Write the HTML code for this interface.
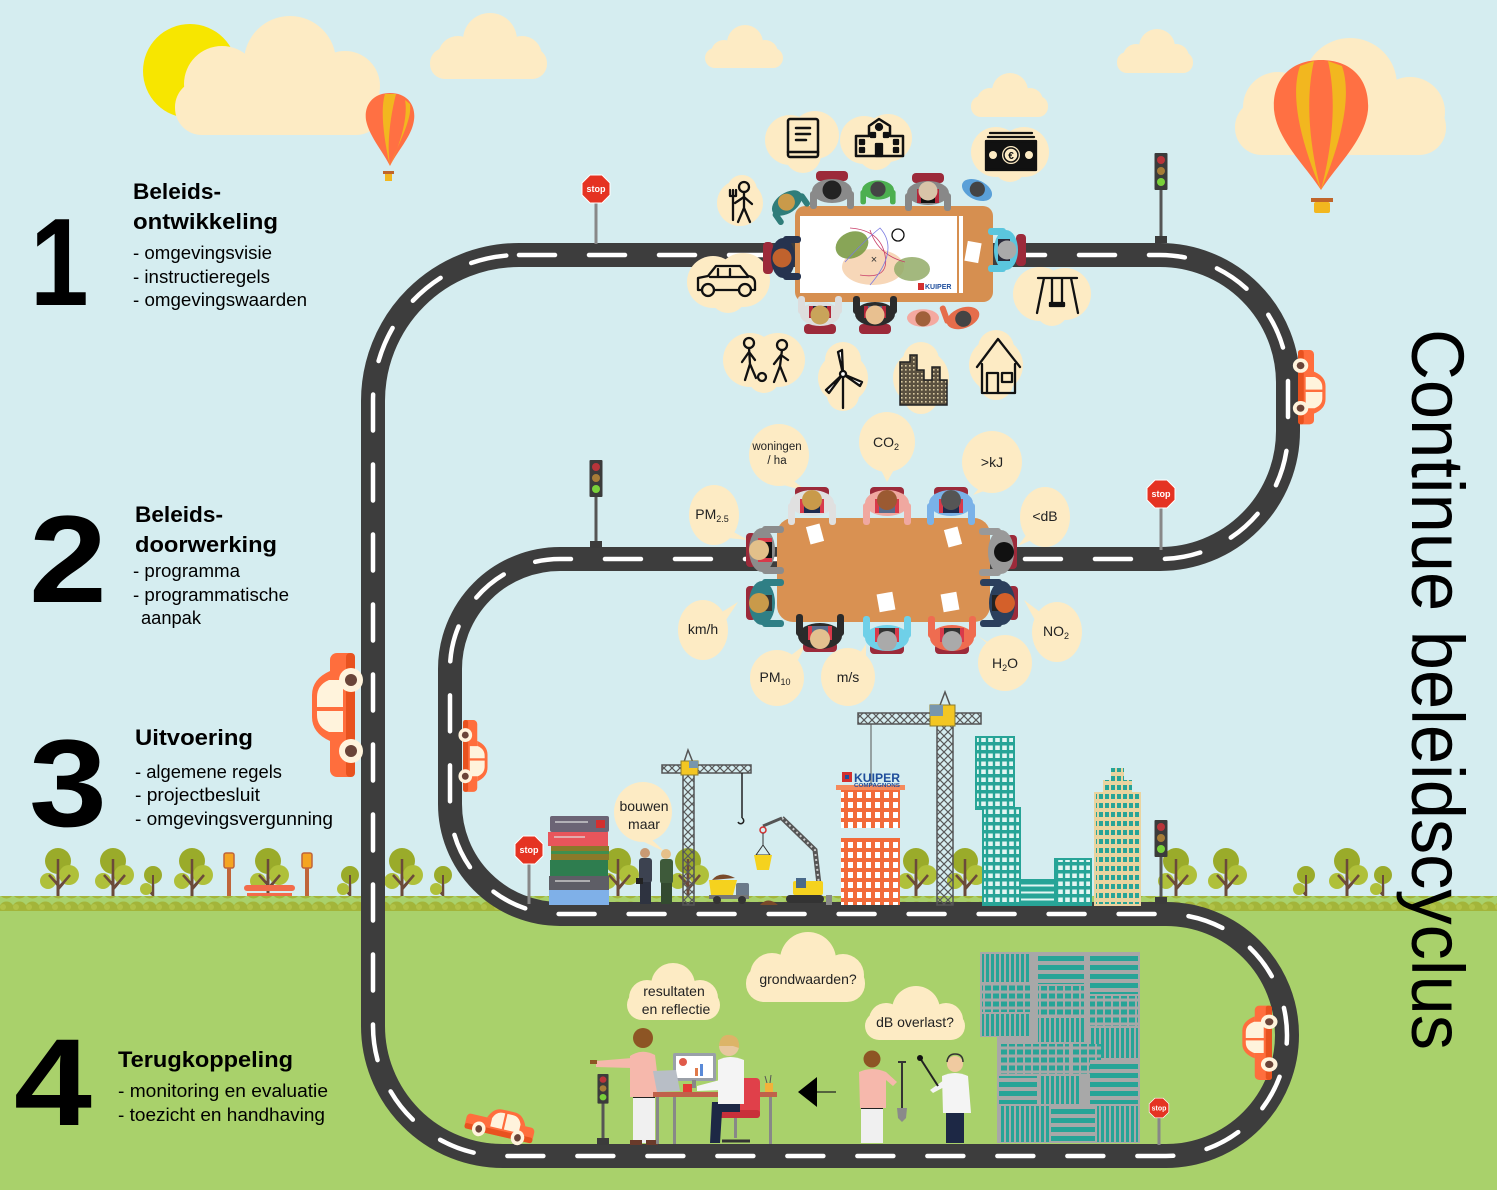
<!DOCTYPE html>
<html><head><meta charset="utf-8">
<style>
html,body{margin:0;padding:0;background:#d5edf0;}
svg{display:block;}
text{font-family:"Liberation Sans",sans-serif;}
</style></head>
<body>
<svg width="1497" height="1190" viewBox="0 0 1497 1190" xmlns="http://www.w3.org/2000/svg">
<defs>
 <pattern id="hedge" width="13" height="18" patternUnits="userSpaceOnUse"><rect width="13" height="18" fill="#a9d16b"/><circle cx="6.5" cy="9" r="7.5" fill="#a3b53a"/><circle cx="3" cy="7" r="3" fill="#b1c247"/></pattern>
 <pattern id="lat" width="8" height="8" patternUnits="userSpaceOnUse"><path d="M0,0L8,8M8,0L0,8" stroke="#5a5a5a" stroke-width="1.2"/></pattern>
 <pattern id="tealwin" width="7" height="8" patternUnits="userSpaceOnUse"><rect width="7" height="8" fill="#27a497"/><rect x="1.2" y="1.5" width="4.6" height="4.5" fill="#e3f6f3"/></pattern>
 <pattern id="tealv" width="5" height="8" patternUnits="userSpaceOnUse"><rect width="5" height="8" fill="#27a497"/><rect x="1.5" y="0" width="2" height="8" fill="#e3f6f3"/></pattern>
 <pattern id="tealh" width="8" height="7" patternUnits="userSpaceOnUse"><rect width="8" height="7" fill="#27a497"/><rect y="2.5" width="8" height="2" fill="#e3f6f3"/></pattern>
 <pattern id="beigewin" width="6" height="9" patternUnits="userSpaceOnUse"><rect width="6" height="9" fill="#ead49f"/><rect x="1" y="2" width="4" height="5" fill="#27a497"/></pattern>
 <pattern id="grayh" width="8" height="9" patternUnits="userSpaceOnUse"><rect width="8" height="9" fill="#a8a8a8"/><rect y="2" width="8" height="5" fill="#27a497"/></pattern>
 <pattern id="grayv" width="5" height="9" patternUnits="userSpaceOnUse"><rect width="5" height="9" fill="#a8a8a8"/><rect x="1" y="0" width="3" height="9" fill="#27a497"/></pattern>
 <pattern id="grayw" width="8" height="8" patternUnits="userSpaceOnUse"><rect width="8" height="8" fill="#a8a8a8"/><rect x="1" y="1.5" width="6" height="5" fill="#27a497"/></pattern>
 <pattern id="cityp" width="4" height="4" patternUnits="userSpaceOnUse"><rect width="4" height="4" fill="#5b5140"/><rect x="1" y="1" width="1.6" height="1.6" fill="#d9c9a0"/></pattern>
 <pattern id="orwin" width="9" height="10" patternUnits="userSpaceOnUse"><rect width="9" height="10" fill="#f26b3a"/><rect x="2" y="2" width="5" height="6" fill="#fff"/></pattern>
 <g id="car">
  <rect x="0" y="-25" width="124" height="25" rx="7" fill="#ff6e3d"/>
  <rect x="0" y="-9" width="124" height="9" rx="4" fill="#e8521f"/>
  <path d="M36,-25 Q44,-43 60,-43 L82,-43 Q98,-43 106,-25 Z" fill="#ff6e3d"/>
  <path d="M45,-12 L45,-26 Q50,-38 62,-38 L80,-38 Q92,-38 97,-26 L97,-12 Z" fill="#fff3dc"/>
  <rect x="66" y="-40" width="4" height="30" fill="#ff6e3d"/>
  <circle cx="26" cy="-4" r="12" fill="#fff3dc"/><circle cx="26" cy="-4" r="6" fill="#6a4438"/>
  <circle cx="97" cy="-4" r="12" fill="#fff3dc"/><circle cx="97" cy="-4" r="6" fill="#6a4438"/>
 </g>
 <g id="tree">
  <path d="M0,0 L0,-46 M0,-20 L-9,-30 M0,-16 L12,-30" stroke="#6b4a3a" stroke-width="3" fill="none"/>
  <circle cx="0" cy="-44" r="13" fill="#9aab2a"/>
  <circle cx="11" cy="-30" r="10" fill="#afc03a"/>
  <circle cx="-10" cy="-24" r="8" fill="#afc03a"/>
  <path d="M0,0 L0,-46 M0,-20 L-9,-30 M0,-16 L12,-30" stroke="#6b4a3a" stroke-width="2.5" fill="none"/>
 </g>
 <g id="stree">
  <path d="M0,0 L0,-30 M0,-10 L-7,-17" stroke="#6b4a3a" stroke-width="2.5" fill="none"/>
  <circle cx="0" cy="-30" r="9" fill="#9aab2a"/>
  <circle cx="-7" cy="-16" r="6" fill="#afc03a"/>
  <path d="M0,0 L0,-30" stroke="#6b4a3a" stroke-width="2" fill="none"/>
 </g>
 <g id="tl">
  <rect x="-6.5" y="0" width="13" height="37" rx="1" fill="#3b3b3b"/>
  <circle cy="7" r="4" fill="#b8343a"/><circle cy="18" r="4" fill="#a67c37"/><circle cy="29" r="4" fill="#79d13a"/>
 </g>
 <g id="stop">
  <polygon points="-6,-14 6,-14 14,-6 14,6 6,14 -6,14 -14,6 -14,-6" fill="#e53322" stroke="#fff" stroke-width="1"/>
 </g>
</defs>

<!-- background -->
<rect width="1497" height="1190" fill="#d5edf0"/>

<!-- sun & clouds -->
<circle cx="190" cy="71" r="47" fill="#f7e600"/>
<g fill="#fdebc4">
 <rect x="175" y="80" width="208" height="55" rx="27"/><circle cx="290" cy="62" r="46"/><circle cx="222" cy="84" r="38"/><circle cx="345" cy="86" r="35"/>
 <rect x="430" y="48" width="117" height="31" rx="15"/><circle cx="490" cy="40" r="27"/><circle cx="458" cy="56" r="20"/><circle cx="522" cy="56" r="20"/>
 <rect x="705" y="48" width="78" height="20" rx="10"/><circle cx="745" cy="43" r="18"/><circle cx="724" cy="53" r="13"/><circle cx="765" cy="53" r="13"/>
 <rect x="1117" y="52" width="76" height="21" rx="10"/><circle cx="1157" cy="47" r="18"/><circle cx="1136" cy="57" r="13"/><circle cx="1176" cy="57" r="13"/>
 <rect x="971" y="96" width="77" height="21" rx="10"/><circle cx="1010" cy="91" r="18"/><circle cx="990" cy="101" r="13"/><circle cx="1030" cy="101" r="13"/>
 <rect x="1235" y="100" width="211" height="55" rx="27"/><circle cx="1350" cy="85" r="47"/><circle cx="1278" cy="107" r="35"/><circle cx="1410" cy="112" r="35"/>
</g>

<!-- balloons -->
<g>
 <path d="M390,93 C372,93 364,106 366,120 C369,136 382,150 390,166 C398,150 412,136 414,120 C416,106 408,93 390,93 Z" fill="#ff7043"/>
 <path d="M385,94 C380,110 384,140 390,166 C386,140 392,110 396,94 Z" fill="#f2b71f"/>
 <path d="M405,100 C408,115 402,140 390,166 C400,140 412,120 410,104 Z" fill="#f2b71f"/>
 <rect x="383" y="171" width="11" height="3" fill="#c0652a"/><rect x="385" y="174" width="7" height="7" fill="#f2b71f"/>
</g>
<g>
 <path d="M1321,60 C1290,60 1272,80 1274,110 C1277,140 1305,165 1321,190 C1337,165 1365,140 1368,110 C1370,80 1352,60 1321,60 Z" fill="#ff7043"/>
 <path d="M1300,66 C1290,95 1300,140 1321,190 C1308,140 1306,95 1314,61 Z" fill="#f2b71f"/>
 <path d="M1342,66 C1352,95 1342,140 1321,190 C1334,140 1336,95 1328,61 Z" fill="#f2b71f"/>
 <rect x="1311" y="198" width="22" height="4" fill="#c0652a"/><rect x="1314" y="202" width="16" height="11" rx="2" fill="#f2b71f"/>
</g>

<!-- trees row -->
<g>
 <use href="#tree" x="58" y="905"/><use href="#tree" x="113" y="905"/><use href="#stree" x="153" y="905"/><use href="#tree" x="192" y="905"/>
 <use href="#tree" x="268" y="905"/><use href="#stree" x="350" y="905"/><use href="#tree" x="402" y="905"/><use href="#stree" x="443" y="905"/>
 <use href="#tree" x="618" y="905"/><use href="#tree" x="688" y="905"/><use href="#tree" x="916" y="905"/><use href="#tree" x="965" y="905"/>
 <use href="#tree" x="1176" y="905"/><use href="#tree" x="1226" y="905"/><use href="#stree" x="1306" y="905"/><use href="#tree" x="1347" y="905"/><use href="#stree" x="1383" y="905"/>
</g>
<!-- lamps & bench -->
<g>
 <rect x="227" y="866" width="4" height="47" fill="#c0653a"/><rect x="224" y="853" width="10" height="15" rx="2" fill="#f4a522" stroke="#c0653a" stroke-width="1.5"/>
 <rect x="305" y="866" width="4" height="47" fill="#c0653a"/><rect x="302" y="853" width="10" height="15" rx="2" fill="#f4a522" stroke="#c0653a" stroke-width="1.5"/>
 <rect x="244" y="885" width="51" height="6" rx="3" fill="#f26b4a"/>
 <rect x="247" y="893" width="45" height="3" fill="#f26b4a"/><rect x="247" y="898" width="45" height="3" fill="#f26b4a"/>
 <rect x="242" y="903" width="55" height="4" fill="#f26b4a"/>
 <rect x="246" y="905" width="3" height="9" fill="#f26b4a"/><rect x="290" y="905" width="3" height="9" fill="#f26b4a"/>
</g>

<!-- hedge & grass -->
<rect x="0" y="896" width="1497" height="18" fill="url(#hedge)"/>
<rect x="0" y="911" width="1497" height="279" fill="#a9d16b"/>

<!-- road -->
<path d="M519,255 H1160 A128,128 0 0 1 1288,383 V431 A128,128 0 0 1 1160,559 H560 A110,110 0 0 0 450,669 V804 A110,110 0 0 0 560,914 H1166 A121,121 0 0 1 1166,1156 H503 A130,130 0 0 1 373,1026 V401 A146,146 0 0 1 519,255 Z" fill="none" stroke="#3d3d3d" stroke-width="24"/>
<path d="M519,255 H1160 A128,128 0 0 1 1288,383 V431 A128,128 0 0 1 1160,559 H560 A110,110 0 0 0 450,669 V804 A110,110 0 0 0 560,914 H1166 A121,121 0 0 1 1166,1156 H503 A130,130 0 0 1 373,1026 V401 A146,146 0 0 1 519,255 Z" fill="none" stroke="#fff" stroke-width="4.5" stroke-dasharray="36 34" stroke-linecap="round"/>

<!-- stop signs & traffic lights -->
<g>
 <rect x="594.5" y="200" width="3" height="44" fill="#888"/><use href="#stop" x="596" y="189"/><text x="596" y="192" font-size="9" font-weight="bold" fill="#fff" text-anchor="middle">stop</text>
 <rect x="1159.5" y="505" width="3" height="45" fill="#888"/><use href="#stop" x="1161" y="494"/><text x="1161" y="497" font-size="9" font-weight="bold" fill="#fff" text-anchor="middle">stop</text>
 <rect x="527.5" y="860" width="3" height="44" fill="#888"/><use href="#stop" x="529" y="850"/><text x="529" y="853" font-size="9" font-weight="bold" fill="#fff" text-anchor="middle">stop</text>
 <rect x="1157.5" y="1115" width="3" height="30" fill="#888"/><g transform="translate(1159,1108) scale(0.7)"><use href="#stop"/></g><text x="1159" y="1110.5" font-size="7" font-weight="bold" fill="#fff" text-anchor="middle">stop</text>
 <rect x="1159.5" y="190" width="3" height="52" fill="#555"/><rect x="1155" y="236" width="12" height="7" fill="#3b3b3b"/><use href="#tl" x="1161" y="153"/>
 <rect x="594.5" y="496" width="3" height="52" fill="#555"/><rect x="590" y="541" width="12" height="7" fill="#3b3b3b"/><use href="#tl" x="596" y="460"/>
 <rect x="1159.5" y="856" width="3" height="48" fill="#555"/><rect x="1155" y="897" width="12" height="7" fill="#3b3b3b"/><use href="#tl" x="1161" y="820"/>
 <rect x="601.5" y="1102" width="3" height="42" fill="#555"/><rect x="597" y="1138" width="12" height="7" fill="#3b3b3b"/><g transform="translate(603,1074) scale(0.85,0.8)"><use href="#tl"/></g>
</g>

<!-- cars -->
<use href="#car" transform="matrix(0,-1,1,0,355,777)"/>
<use href="#car" transform="matrix(0,0.58,-0.57,0,463,720)"/>
<use href="#car" transform="matrix(0,0.6,-0.64,0,1298,350)"/>
<use href="#car" transform="matrix(0,-0.6,0.69,0,1272,1080)"/>
<use href="#car" transform="translate(464,1128) rotate(13) scale(0.56,0.62)"/>

<!-- ===== TOP MEETING ===== -->
<g fill="#fdebc4">
 <circle cx="790" cy="140" r="25"/><circle cx="815" cy="135" r="24"/><circle cx="803" cy="155" r="18"/>
 <circle cx="864" cy="140" r="24"/><circle cx="888" cy="138" r="24"/><circle cx="876" cy="152" r="18"/>
 <circle cx="996" cy="152" r="25"/><circle cx="1024" cy="152" r="25"/><circle cx="1010" cy="166" r="16"/>
 <circle cx="740" cy="203" r="23"/><circle cx="742" cy="190" r="15"/>
 <circle cx="713" cy="282" r="26"/><circle cx="743" cy="280" r="27"/><circle cx="728" cy="295" r="18"/>
 <circle cx="1040" cy="294" r="27"/><circle cx="1065" cy="294" r="26"/><circle cx="1052" cy="310" r="16"/>
 <circle cx="750" cy="360" r="27"/><circle cx="778" cy="360" r="27"/><circle cx="764" cy="377" r="16"/>
 <circle cx="843" cy="378" r="25"/><circle cx="843" cy="360" r="18"/><circle cx="843" cy="395" r="16"/>
 <circle cx="921" cy="378" r="28"/><circle cx="921" cy="360" r="18"/><circle cx="921" cy="397" r="17"/>
 <circle cx="996" cy="365" r="27"/><circle cx="996" cy="348" r="18"/><circle cx="996" cy="383" r="17"/>
</g>
<g stroke="#111" stroke-width="2.5" fill="none" stroke-linecap="round" stroke-linejoin="round">
 <rect x="788" y="119" width="30" height="38" rx="2"/><line x1="788" y1="152" x2="818" y2="152"/><path d="M796,128 H810 M796,134 H810 M796,140 H806"/>
 <path d="M856,156 V136 H869 V126 L879,119 L890,126 V136 H903 V156 Z"/>
</g>
<g stroke="#111" stroke-width="2.3" fill="none" stroke-linecap="round" stroke-linejoin="round">
 <circle cx="879" cy="127" r="3" fill="#111"/><rect x="876" y="144" width="6" height="12" fill="#111"/>
 <rect x="860" y="140" width="4" height="4" fill="#111"/><rect x="860" y="148" width="4" height="4" fill="#111"/>
 <rect x="894" y="140" width="4" height="4" fill="#111"/><rect x="894" y="148" width="4" height="4" fill="#111"/>
 <rect x="871" y="133" width="4" height="4" fill="#111"/><rect x="884" y="133" width="4" height="4" fill="#111"/>
 <path d="M990,133 H1032 M988,137 H1034"/>
 <rect x="986" y="141" width="50" height="29" fill="#111"/>
 <circle cx="744" cy="187" r="5"/><path d="M744,192 V208 L738,222 M744,208 L750,222 M744,197 L735,203 M744,197 L752,204"/>
 <path d="M733,190 V220 M730,190 V196 H736 V190"/>
 <path d="M698,290 V278 L708,276 L716,266 H740 L748,276 Q755,277 755,283 V290 Z"/><path d="M718,269 V277 M730,269 V277 M710,277 H748"/>
 <path d="M1038,278 H1077 M1044,278 L1037,313 M1071,278 L1078,313 M1052,278 V304 M1062,278 V304"/><rect x="1050" y="303" width="14" height="3" fill="#111"/>
 <circle cx="749" cy="343" r="5"/><path d="M749,348 L750,364 L745,380 M750,364 L756,378 M749,352 L742,362 M749,352 L755,360"/>
 <circle cx="762" cy="377" r="4"/>
 <circle cx="782" cy="345" r="5"/><path d="M782,350 L780,366 L774,382 M780,366 L786,381 M781,355 L774,364 M781,355 L788,360"/>
 <path d="M843,374 V408"/><path d="M843,374 L838,352 L842,350 Z M843,374 L862,382 L860,386 Z M843,374 L829,393 L826,390 Z" fill="#fff"/><circle cx="843" cy="374" r="3" fill="#fff"/>
 <path d="M977,367 L998,339 L1020,367 M982,364 V393 H1015 V364"/><path d="M987,393 V373 H998 V393"/><rect x="1002" y="373" width="10" height="9"/>
</g>
<path d="M900,405 V362 H910 V355 H917 V370 H924 V380 H932 V367 H940 V380 H947 V405 Z" fill="url(#cityp)" stroke="#222" stroke-width="1.5"/>
<g fill="#fdebc4"><circle cx="1011" cy="155" r="9"/><circle cx="993" cy="155" r="4"/><circle cx="1029" cy="155" r="4"/></g>
<circle cx="1011" cy="155" r="7" fill="none" stroke="#111" stroke-width="1.5"/>
<text x="1011" y="159" font-size="10" text-anchor="middle" fill="#111" font-weight="bold">€</text>
<g fill="none" stroke="#111" stroke-width="2.3"><circle cx="708" cy="290" r="6" fill="#fdebc4"/><circle cx="745" cy="290" r="6" fill="#fdebc4"/></g>

<!-- top table -->
<rect x="795" y="206" width="198" height="96" rx="10" fill="#d68f50"/>
<rect x="800" y="216" width="157" height="77" fill="#fff"/>
<rect x="959" y="216" width="4" height="77" fill="#fff"/>
<ellipse cx="873" cy="267" rx="31" ry="18" fill="#f7d7b8"/>
<ellipse cx="852" cy="245" rx="17" ry="13" transform="rotate(-25 852 245)" fill="#7b9b45" opacity="0.9"/>
<ellipse cx="912" cy="269" rx="18" ry="12" fill="#93ac67" opacity="0.85"/>
<circle cx="898" cy="235" r="6" fill="#fff" stroke="#111" stroke-width="1.3"/>
<path d="M850,228 Q880,230 885,255 Q890,280 860,275 M870,230 Q878,255 905,262" fill="none" stroke="#c9406a" stroke-width="0.8"/>
<path d="M845,262 Q865,240 880,228 Q900,250 870,285" fill="none" stroke="#7a7ae0" stroke-width="0.8"/>
<text x="874" y="263" font-size="11" text-anchor="middle" fill="#333">×</text>
<rect x="918" y="283" width="6" height="7" fill="#d32f2f"/><text x="925" y="289" font-size="7" font-weight="bold" fill="#1f4e9c">KUIPER</text>

<!-- top people -->
<g>
 <g transform="translate(787,203) rotate(-35)"><ellipse rx="17" ry="10" fill="#2f7d7a"/><rect x="-19" y="0" width="6" height="15" rx="3" fill="#2f7d7a"/><rect x="13" y="0" width="6" height="15" rx="3" fill="#2f7d7a"/><circle cy="-1" r="8.5" fill="#c99a4a"/></g>
 <g transform="translate(832,191)"><rect x="-16" y="-20" width="32" height="10" rx="4" fill="#9c2a3a"/><ellipse rx="20" ry="12" fill="#8a8a8a"/><rect x="-22" y="0" width="7" height="18" rx="3" fill="#8a8a8a"/><rect x="15" y="0" width="7" height="18" rx="3" fill="#8a8a8a"/><circle cy="-1" r="9.5" fill="#222"/></g>
 <g transform="translate(878,190) scale(0.8)"><ellipse rx="20" ry="12" fill="#4caf50"/><rect x="-22" y="0" width="7" height="18" rx="3" fill="#4caf50"/><rect x="15" y="0" width="7" height="18" rx="3" fill="#4caf50"/><circle cy="-1" r="9.5" fill="#444"/></g>
 <g transform="translate(928,193)"><rect x="-16" y="-20" width="32" height="10" rx="4" fill="#9c2a3a"/><ellipse rx="21" ry="12" fill="#888"/><rect x="-11" y="-4" width="22" height="14" fill="#b3273a"/><rect x="-7" y="0" width="14" height="10" fill="#111"/><rect x="-23" y="0" width="7" height="18" rx="3" fill="#888"/><rect x="16" y="0" width="7" height="18" rx="3" fill="#888"/><circle cy="-2" r="9.5" fill="#d8c4a8"/></g>
 <g transform="translate(977,190) rotate(25) scale(0.8)"><ellipse rx="20" ry="12" fill="#5aa0d8"/><circle cy="-1" r="9.5" fill="#444"/></g>
 <g transform="translate(783,258) rotate(-90)"><rect x="-16" y="-20" width="32" height="10" rx="4" fill="#9c2a3a"/><ellipse rx="20" ry="12" fill="#26334f"/><rect x="-22" y="0" width="7" height="18" rx="3" fill="#26334f"/><rect x="15" y="0" width="7" height="18" rx="3" fill="#26334f"/><circle cy="-1" r="9.5" fill="#c0622d"/></g>
 <g transform="translate(1006,250) rotate(90)"><rect x="-16" y="-20" width="32" height="10" rx="4" fill="#9c2a3a"/><ellipse rx="20" ry="12" fill="#5bc6de"/><rect x="-11" y="-4" width="22" height="12" fill="#2b2b3b"/><rect x="-22" y="0" width="7" height="18" rx="3" fill="#5bc6de"/><rect x="15" y="0" width="7" height="18" rx="3" fill="#5bc6de"/><circle cy="-1" r="9.5" fill="#aaa"/></g>
 <rect x="966" y="242" width="14" height="20" fill="#fff" transform="rotate(10 973 252)"/>
 <g transform="translate(820,314) rotate(180)"><rect x="-16" y="-20" width="32" height="10" rx="4" fill="#9c2a3a"/><ellipse rx="20" ry="12" fill="#ddd"/><rect x="-11" y="-4" width="22" height="12" fill="#b3273a"/><rect x="-7" y="-1" width="14" height="9" fill="#1a2240"/><rect x="-22" y="0" width="7" height="18" rx="3" fill="#ddd"/><rect x="15" y="0" width="7" height="18" rx="3" fill="#ddd"/><circle cy="-1" r="9.5" fill="#c9a45a"/></g>
 <g transform="translate(875,314) rotate(180)"><rect x="-16" y="-20" width="32" height="10" rx="4" fill="#9c2a3a"/><ellipse rx="20" ry="12" fill="#2b2b2b"/><rect x="-11" y="-4" width="22" height="12" fill="#b3273a"/><rect x="-7" y="-1" width="14" height="9" fill="#5a6b8a"/><rect x="-22" y="0" width="7" height="18" rx="3" fill="#2b2b2b"/><rect x="15" y="0" width="7" height="18" rx="3" fill="#2b2b2b"/><circle cy="-1" r="9.5" fill="#e8c090"/></g>
 <g transform="translate(923,318) rotate(180) scale(0.8)"><ellipse rx="20" ry="11" fill="#f4a9a0"/><circle cy="-1" r="9.5" fill="#a0603a"/></g>
 <g transform="translate(963,318) rotate(160) scale(0.85)"><ellipse rx="20" ry="12" fill="#e56d4b"/><rect x="15" y="0" width="7" height="22" rx="3" fill="#e56d4b"/><circle cy="-1" r="9.5" fill="#444"/></g>
</g>

<!-- ===== MIDDLE MEETING ===== -->
<g fill="#fdebc4">
 <ellipse cx="779" cy="455" rx="30" ry="31"/><path d="M790,478 L808,492 L780,484 Z"/>
 <ellipse cx="887" cy="442" rx="28" ry="30"/><path d="M880,468 L887,482 L895,468 Z"/>
 <ellipse cx="992" cy="462" rx="30" ry="31"/><path d="M982,485 L973,495 L995,487 Z"/>
 <ellipse cx="714" cy="515" rx="25" ry="30"/><path d="M730,530 L748,540 L728,538 Z"/>
 <ellipse cx="1045" cy="517" rx="25" ry="30"/><path d="M1030,530 L1018,546 L1036,538 Z"/>
 <ellipse cx="703" cy="630" rx="25" ry="30"/><path d="M722,612 L738,602 L726,620 Z"/>
 <ellipse cx="1057" cy="632" rx="25" ry="30"/><path d="M1040,612 L1024,600 L1036,622 Z"/>
 <ellipse cx="1005" cy="663" rx="27" ry="28"/><path d="M988,644 L978,636 L994,646 Z"/>
 <ellipse cx="777" cy="678" rx="27" ry="28"/><path d="M790,656 L806,644 L798,660 Z"/>
 <ellipse cx="848" cy="677" rx="27" ry="29"/><path d="M858,656 L866,644 L866,660 Z"/>
</g>
<g font-size="14" fill="#222" text-anchor="middle">
 <text x="777" y="450" font-size="11.5">woningen</text><text x="777" y="464" font-size="11.5">/ ha</text>
 <text x="886" y="447">CO<tspan font-size="9" dy="3">2</tspan></text>
 <text x="992" y="467">&gt;kJ</text>
 <text x="712" y="519">PM<tspan font-size="9" dy="3">2.5</tspan></text>
 <text x="1045" y="521">&lt;dB</text>
 <text x="703" y="634">km/h</text>
 <text x="1056" y="636">NO<tspan font-size="9" dy="3">2</tspan></text>
 <text x="1005" y="668">H<tspan font-size="9" dy="3">2</tspan><tspan dy="-3">O</tspan></text>
 <text x="775" y="682">PM<tspan font-size="9" dy="3">10</tspan></text>
 <text x="848" y="682">m/s</text>
</g>
<rect x="777" y="518" width="213" height="104" rx="16" fill="#d99152"/>
<g>
 <g transform="translate(812,503)"><rect x="-17" y="-16" width="34" height="10" rx="4" fill="#9c2a3a"/><ellipse rx="22" ry="13" fill="#e0e0e0"/><rect x="-12" y="-4" width="24" height="14" fill="#d8394a"/><rect x="-8" y="-2" width="16" height="12" fill="#1d2b4f"/><rect x="-24" y="0" width="7" height="22" rx="3" fill="#e0e0e0"/><rect x="17" y="0" width="7" height="22" rx="3" fill="#e0e0e0"/><circle cy="-3" r="10" fill="#c99a4a"/></g>
 <g transform="translate(887,503)"><rect x="-17" y="-16" width="34" height="10" rx="4" fill="#9c2a3a"/><ellipse rx="22" ry="13" fill="#f0a8a0"/><rect x="-12" y="-4" width="24" height="14" fill="#d8394a"/><rect x="-8" y="-2" width="16" height="12" fill="#5a6b8a"/><rect x="-24" y="0" width="7" height="22" rx="3" fill="#f0a8a0"/><rect x="17" y="0" width="7" height="22" rx="3" fill="#f0a8a0"/><circle cy="-3" r="10" fill="#9b5a32"/></g>
 <g transform="translate(951,503)"><rect x="-17" y="-16" width="34" height="10" rx="4" fill="#9c2a3a"/><ellipse rx="22" ry="13" fill="#7ab2e8"/><rect x="-12" y="-4" width="24" height="14" fill="#d8394a"/><rect x="-8" y="-2" width="16" height="12" fill="#1d2b4f"/><rect x="-24" y="0" width="7" height="22" rx="3" fill="#7ab2e8"/><rect x="17" y="0" width="7" height="22" rx="3" fill="#7ab2e8"/><circle cy="-3" r="10" fill="#555"/></g>
 <g transform="translate(762,550) rotate(-90)"><rect x="-17" y="-16" width="34" height="10" rx="4" fill="#9c2a3a"/><ellipse rx="22" ry="13" fill="#8c8c8c"/><rect x="-12" y="-4" width="24" height="14" fill="#d8394a"/><rect x="-8" y="-2" width="16" height="12" fill="#111"/><rect x="-24" y="0" width="7" height="22" rx="3" fill="#8c8c8c"/><rect x="17" y="0" width="7" height="22" rx="3" fill="#8c8c8c"/><circle cy="-3" r="10" fill="#e2c08a"/></g>
 <g transform="translate(762,603) rotate(-90)"><rect x="-17" y="-16" width="34" height="10" rx="4" fill="#9c2a3a"/><ellipse rx="22" ry="13" fill="#2f7f85"/><rect x="-8" y="-2" width="16" height="12" fill="#333"/><rect x="-24" y="0" width="7" height="22" rx="3" fill="#2f7f85"/><rect x="17" y="0" width="7" height="22" rx="3" fill="#2f7f85"/><circle cy="-3" r="10" fill="#c99a4a"/></g>
 <g transform="translate(1001,552) rotate(90)"><rect x="-17" y="-16" width="34" height="10" rx="4" fill="#9c2a3a"/><ellipse rx="22" ry="13" fill="#999"/><rect x="-24" y="0" width="7" height="22" rx="3" fill="#999"/><rect x="17" y="0" width="7" height="22" rx="3" fill="#999"/><circle cy="-3" r="10" fill="#111"/></g>
 <g transform="translate(1002,603) rotate(90)"><rect x="-17" y="-16" width="34" height="10" rx="4" fill="#9c2a3a"/><ellipse rx="22" ry="13" fill="#2b3f5c"/><rect x="-8" y="-2" width="16" height="12" fill="#222"/><rect x="-24" y="0" width="7" height="22" rx="3" fill="#2b3f5c"/><rect x="17" y="0" width="7" height="22" rx="3" fill="#2b3f5c"/><circle cy="-3" r="10" fill="#d4602a"/></g>
 <g transform="translate(820,636) rotate(180)"><rect x="-17" y="-16" width="34" height="10" rx="4" fill="#9c2a3a"/><ellipse rx="22" ry="13" fill="#2b2b2b"/><rect x="-12" y="-4" width="24" height="14" fill="#d8394a"/><rect x="-8" y="-2" width="16" height="12" fill="#5a6b8a"/><rect x="-24" y="0" width="7" height="22" rx="3" fill="#2b2b2b"/><rect x="17" y="0" width="7" height="22" rx="3" fill="#2b2b2b"/><circle cy="-3" r="10" fill="#e3c08f"/></g>
 <g transform="translate(887,638) rotate(180)"><rect x="-17" y="-16" width="34" height="10" rx="4" fill="#9c2a3a"/><ellipse rx="22" ry="13" fill="#6fd0e8"/><rect x="-12" y="-4" width="24" height="14" fill="#d8394a"/><rect x="-8" y="-2" width="16" height="12" fill="#333"/><rect x="-24" y="0" width="7" height="22" rx="3" fill="#6fd0e8"/><rect x="17" y="0" width="7" height="22" rx="3" fill="#6fd0e8"/><circle cy="-3" r="10" fill="#aaa"/></g>
 <g transform="translate(952,638) rotate(180)"><rect x="-17" y="-16" width="34" height="10" rx="4" fill="#9c2a3a"/><ellipse rx="22" ry="13" fill="#ef6c50"/><rect x="-12" y="-4" width="24" height="14" fill="#d8394a"/><rect x="-8" y="-2" width="16" height="12" fill="#333"/><rect x="-24" y="0" width="7" height="22" rx="3" fill="#ef6c50"/><rect x="17" y="0" width="7" height="22" rx="3" fill="#ef6c50"/><circle cy="-3" r="10" fill="#aaa"/></g>
 <rect x="808" y="525" width="14" height="18" fill="#fff" transform="rotate(-15 815 534)"/>
 <rect x="946" y="528" width="14" height="18" fill="#fff" transform="rotate(-15 953 537)"/>
 <rect x="878" y="593" width="16" height="18" fill="#fff" transform="rotate(-10 886 602)"/>
 <rect x="942" y="593" width="16" height="18" fill="#fff" transform="rotate(-10 950 602)"/>
</g>

<!-- ===== CONSTRUCTION ===== -->
<path d="M937,713 L945,692 L953,713" fill="none" stroke="#555" stroke-width="1.5"/>
<rect x="858" y="713" width="123" height="11" fill="url(#lat)" stroke="#555" stroke-width="1.5"/>
<rect x="937" y="713" width="16" height="192" fill="url(#lat)" stroke="#555" stroke-width="1.5"/>
<rect x="930" y="705" width="25" height="21" fill="#f3c623" stroke="#8a7a30" stroke-width="1"/><rect x="930" y="705" width="13" height="11" fill="#7896ad"/>
<line x1="871" y1="724" x2="871" y2="787" stroke="#555" stroke-width="1"/>
<path d="M683,765 L688,750 L694,765" fill="none" stroke="#555" stroke-width="1.5"/>
<rect x="662" y="765" width="89" height="8" fill="url(#lat)" stroke="#555" stroke-width="1.5"/>
<rect x="683" y="773" width="11" height="132" fill="url(#lat)" stroke="#555" stroke-width="1.5"/>
<rect x="681" y="761" width="17" height="14" fill="#f3c623" stroke="#8a7a30" stroke-width="1"/><rect x="689" y="761" width="9" height="7" fill="#7896ad"/>
<path d="M742,773 V818 M742,818 A3,3 0 1 1 738,822" fill="none" stroke="#222" stroke-width="1.5"/>
<rect x="836" y="785" width="69" height="5" fill="#f58a5c"/>
<rect x="841" y="790" width="59" height="38" fill="url(#orwin)"/>
<rect x="841" y="838" width="59" height="67" fill="url(#orwin)"/>
<rect x="842" y="772" width="10" height="10" fill="#d32f2f"/><rect x="845" y="775" width="4" height="4" fill="#1f4e9c"/>
<text x="854" y="782" font-size="12" font-weight="bold" fill="#1f4e9c" textLength="46" lengthAdjust="spacingAndGlyphs">KUIPER</text>
<text x="854" y="787" font-size="5" font-weight="bold" fill="#1f4e9c" textLength="46" lengthAdjust="spacingAndGlyphs">COMPAGNONS</text>
<rect x="976" y="737" width="38" height="72" fill="url(#tealwin)" stroke="#27a497" stroke-width="2"/>
<rect x="983" y="808" width="37" height="97" fill="url(#tealwin)" stroke="#27a497" stroke-width="2"/>
<rect x="1020" y="880" width="35" height="25" fill="url(#tealh)" stroke="#27a497" stroke-width="2"/>
<rect x="1055" y="859" width="36" height="46" fill="url(#tealwin)" stroke="#27a497" stroke-width="2"/>
<rect x="1111" y="768" width="13" height="13" fill="url(#beigewin)"/>
<rect x="1103" y="780" width="29" height="13" fill="url(#beigewin)"/>
<rect x="1095" y="793" width="45" height="112" fill="url(#beigewin)" stroke="#ead49f" stroke-width="2"/>
<rect x="549" y="890" width="60" height="15" fill="#7fb0e8"/>
<rect x="549" y="876" width="60" height="14" fill="#5e5e66"/>
<rect x="550" y="860" width="58" height="16" fill="#2e7d4f"/>
<rect x="551" y="846" width="58" height="14" fill="#8a7a2a"/><rect x="551" y="851" width="58" height="3" fill="#3f8f4f"/>
<rect x="548" y="832" width="60" height="14" fill="#e8555b"/>
<rect x="550" y="816" width="59" height="16" rx="2" fill="#6b6475"/><rect x="596" y="820" width="9" height="8" fill="#d32f2f"/>
<path d="M555,822 H588 M554,837 H585 M555,881 H590" stroke="#ddd" stroke-width="1.2"/>
<ellipse cx="643" cy="812" rx="29" ry="30" fill="#fdebc4"/><path d="M650,838 L665,852 L640,840 Z" fill="#fdebc4"/>
<text x="644" y="811" font-size="14" text-anchor="middle" fill="#222">bouwen</text>
<text x="644" y="829" font-size="14" text-anchor="middle" fill="#222">maar</text>
<g>
 <circle cx="645" cy="853" r="5" fill="#c99a74"/><rect x="639" y="858" width="13" height="25" rx="3" fill="#3c4250"/><rect x="640" y="882" width="11" height="22" fill="#2e3340"/><rect x="636" y="878" width="7" height="6" fill="#222"/>
 <circle cx="666" cy="854" r="5" fill="#e6c08a"/><rect x="660" y="859" width="13" height="25" rx="3" fill="#3e5a3a"/><rect x="661" y="883" width="11" height="21" fill="#334a30"/>
</g>
<g>
 <path d="M712,880 Q720,870 735,878 Z" fill="#7a4a2a"/>
 <path d="M709,880 L737,880 L733,895 L711,895 Z" fill="#f5d21e"/>
 <rect x="736" y="883" width="13" height="14" rx="2" fill="#6b7a8a"/>
 <rect x="709" y="895" width="40" height="4" fill="#777"/>
 <circle cx="717" cy="900" r="4" fill="#333"/><circle cx="742" cy="900" r="4" fill="#333"/>
 <path d="M760,905 Q768,896 778,905 Z" fill="#7a4a2a"/>
 <path d="M782,818 L815,850 L820,893" fill="none" stroke="#555" stroke-width="5"/>
 <path d="M782,818 L815,850 L820,893" fill="none" stroke="#ccc" stroke-width="2" stroke-dasharray="2 3"/>
 <line x1="763" y1="826" x2="782" y2="818" stroke="#555" stroke-width="3"/>
 <circle cx="763" cy="830" r="3" fill="none" stroke="#d32f2f" stroke-width="1.5"/>
 <path d="M763,833 V845 L756,855 H770 L763,845" fill="none" stroke="#333" stroke-width="1"/>
 <path d="M754,855 H772 L769,870 H757 Z" fill="#f5d21e"/>
 <rect x="793" y="881" width="30" height="14" rx="2" fill="#f5d21e"/><rect x="796" y="878" width="10" height="10" fill="#4a6a8a"/>
 <rect x="786" y="895" width="38" height="8" rx="4" fill="#333"/>
 <rect x="826" y="895" width="6" height="10" fill="#888"/>
</g>

<!-- ===== BOTTOM SCENE ===== -->
<g fill="#fdebc4">
 <rect x="627" y="990" width="93" height="30" rx="15"/><circle cx="673" cy="985" r="22"/><circle cx="647" cy="998" r="18"/><circle cx="700" cy="998" r="18"/>
 <rect x="746" y="965" width="119" height="37" rx="18"/><circle cx="808" cy="960" r="28"/><circle cx="772" cy="975" r="22"/><circle cx="843" cy="975" r="21"/>
 <rect x="865" y="1012" width="100" height="28" rx="14"/><circle cx="916" cy="1010" r="24"/><circle cx="886" cy="1020" r="17"/><circle cx="946" cy="1020" r="17"/>
</g>
<text x="674" y="996" font-size="14" text-anchor="middle" fill="#222">resultaten</text>
<text x="676" y="1014" font-size="14" text-anchor="middle" fill="#222">en reflectie</text>
<text x="808" y="984" font-size="14" text-anchor="middle" fill="#222">grondwaarden?</text>
<text x="915" y="1027" font-size="14" text-anchor="middle" fill="#222">dB overlast?</text>

<path d="M980,952 H1140 V1143 H997 V1037 H980 Z" fill="#a8a8a8"/>
<rect x="982" y="954" width="48" height="28" fill="url(#grayv)"/>
<rect x="982" y="984" width="48" height="28" fill="url(#grayw)"/>
<rect x="982" y="1014" width="48" height="22" fill="url(#grayv)"/>
<rect x="1038" y="954" width="46" height="30" fill="url(#grayh)"/>
<rect x="1038" y="986" width="46" height="30" fill="url(#grayw)"/>
<rect x="1038" y="1018" width="46" height="24" fill="url(#grayv)"/>
<rect x="1090" y="954" width="48" height="40" fill="url(#grayh)"/>
<rect x="1090" y="996" width="48" height="30" fill="url(#grayw)"/>
<rect x="1090" y="1028" width="48" height="30" fill="url(#grayv)"/>
<rect x="999" y="1044" width="70" height="30" fill="url(#grayw)"/>
<rect x="999" y="1076" width="38" height="28" fill="url(#grayh)"/>
<rect x="1039" y="1076" width="42" height="28" fill="url(#grayv)"/>
<rect x="1071" y="1044" width="30" height="30" fill="url(#grayw)"/>
<rect x="1090" y="1060" width="48" height="44" fill="url(#grayh)"/>
<rect x="999" y="1106" width="50" height="36" fill="url(#grayv)"/>
<rect x="1051" y="1106" width="44" height="36" fill="url(#grayh)"/>
<rect x="1097" y="1106" width="41" height="36" fill="url(#grayv)"/>

<polygon points="798,1092 817,1077 817,1107" fill="#000"/>
<line x1="817" y1="1092" x2="836" y2="1092" stroke="#222" stroke-width="1.2"/>

<g>
 <rect x="633" y="1097" width="22" height="46" fill="#f0f0f0"/><rect x="633" y="1095" width="22" height="3" fill="#222"/>
 <rect x="630" y="1140" width="12" height="5" fill="#6a3a2a"/><rect x="646" y="1140" width="12" height="5" fill="#6a3a2a"/>
 <path d="M630,1056 Q642,1048 655,1055 L660,1097 H630 Z" fill="#f6b8ac"/>
 <path d="M632,1058 L596,1061 L596,1067 L632,1068 Z" fill="#f6b8ac"/>
 <rect x="590" y="1060" width="7" height="4" fill="#8d5524"/>
 <circle cx="643" cy="1038" r="10" fill="#8d5524"/>
 <rect x="673" y="1053" width="43" height="28" rx="2" fill="#9aa0a8"/><rect x="676" y="1056" width="37" height="22" fill="#fff"/>
 <circle cx="683" cy="1062" r="4" fill="#e05a4a"/><rect x="695" y="1068" width="3" height="8" fill="#e07a4a"/><rect x="700" y="1064" width="3" height="12" fill="#5a8ad8"/>
 <rect x="692" y="1080" width="4" height="8" fill="#888"/>
 <path d="M653,1071 L676,1070 L680,1091 L657,1092 Z" fill="#b8bec6"/>
 <rect x="683" y="1084" width="9" height="8" fill="#e53935"/>
 <rect x="653" y="1092" width="124" height="5" fill="#c0614a"/>
 <rect x="656" y="1097" width="3" height="47" fill="#888"/><rect x="673" y="1097" width="3" height="47" fill="#888"/><rect x="769" y="1097" width="3" height="47" fill="#888"/>
 <rect x="765" y="1083" width="8" height="9" fill="#f2b23a"/><path d="M767,1083 L765,1076 M770,1083 L771,1075" stroke="#555" stroke-width="1"/>
 <rect x="738" y="1078" width="22" height="40" rx="4" fill="#e0404a"/><rect x="712" y="1110" width="48" height="8" rx="3" fill="#c8303a"/>
 <rect x="734" y="1118" width="3" height="20" fill="#888"/><path d="M722,1141 L750,1141" stroke="#333" stroke-width="3"/>
 <path d="M712,1102 H740 V1112 H722 L720,1143 H710 Z" fill="#1d2845"/>
 <path d="M718,1060 Q730,1054 744,1060 L744,1104 H718 Z" fill="#f4f4f4"/>
 <path d="M720,1080 L697,1086 L697,1091 L722,1090 Z" fill="#f4f4f4"/>
 <circle cx="729" cy="1046" r="10" fill="#e8c8a0"/><path d="M719,1046 Q720,1034 730,1035 Q740,1036 739,1048 L733,1046 Z" fill="#dcb468"/>
</g>
<g>
 <rect x="861" y="1108" width="22" height="35" fill="#f0f0f0"/><rect x="861" y="1106" width="22" height="3" fill="#222"/>
 <path d="M859,1072 Q872,1066 886,1072 L897,1082 L893,1086 L886,1080 L886,1108 H860 Z" fill="#f6b8ac"/>
 <circle cx="872" cy="1059" r="8.5" fill="#8d5524"/>
 <line x1="902" y1="1062" x2="902" y2="1108" stroke="#333" stroke-width="2"/><line x1="898" y1="1062" x2="906" y2="1062" stroke="#333" stroke-width="2"/>
 <path d="M897,1108 H907 L906,1118 L902,1122 L898,1118 Z" fill="#8a8a8a"/>
 <rect x="946" y="1113" width="18" height="30" fill="#1d2845"/>
 <path d="M942,1076 Q955,1070 968,1076 L971,1113 H943 Z" fill="#f4f4f4"/>
 <path d="M944,1080 L930,1090 L933,1093 L946,1086 Z" fill="#f4f4f4"/>
 <line x1="920" y1="1058" x2="938" y2="1086" stroke="#222" stroke-width="2"/><circle cx="920" cy="1058" r="3" fill="#111"/>
 <circle cx="955" cy="1064" r="8" fill="#f0caa0"/><path d="M947,1062 Q948,1054 955,1054 Q963,1054 963,1062" fill="none" stroke="#333" stroke-width="1.5"/>
</g>

<!-- ===== LEFT TEXT ===== -->
<g fill="#000">
 <text transform="translate(30,305) scale(0.85,1)" font-size="124" font-weight="bold">1</text>
 <text transform="translate(29,602) scale(1.13,1)" font-size="124" font-weight="bold">2</text>
 <text transform="translate(29,826) scale(1.13,1)" font-size="124" font-weight="bold">3</text>
 <text transform="translate(14,1125) scale(1.13,1)" font-size="124" font-weight="bold">4</text>

 <text x="133" y="199" font-size="22" font-weight="bold" textLength="88" lengthAdjust="spacingAndGlyphs">Beleids-</text>
 <text x="133" y="229" font-size="22" font-weight="bold" textLength="145" lengthAdjust="spacingAndGlyphs">ontwikkeling</text>
 <text x="133" y="259" font-size="18" textLength="139" lengthAdjust="spacingAndGlyphs">- omgevingsvisie</text>
 <text x="133" y="283" font-size="18" textLength="137" lengthAdjust="spacingAndGlyphs">- instructieregels</text>
 <text x="133" y="306" font-size="18" textLength="174" lengthAdjust="spacingAndGlyphs">- omgevingswaarden</text>

 <text x="135" y="522" font-size="22" font-weight="bold" textLength="88" lengthAdjust="spacingAndGlyphs">Beleids-</text>
 <text x="135" y="552" font-size="22" font-weight="bold" textLength="142" lengthAdjust="spacingAndGlyphs">doorwerking</text>
 <text x="133" y="577" font-size="18" textLength="107" lengthAdjust="spacingAndGlyphs">- programma</text>
 <text x="133" y="601" font-size="18" textLength="156" lengthAdjust="spacingAndGlyphs">- programmatische</text>
 <text x="141" y="624" font-size="18" textLength="60" lengthAdjust="spacingAndGlyphs">aanpak</text>

 <text x="135" y="745" font-size="22" font-weight="bold" textLength="118" lengthAdjust="spacingAndGlyphs">Uitvoering</text>
 <text x="135" y="778" font-size="18" textLength="147" lengthAdjust="spacingAndGlyphs">- algemene regels</text>
 <text x="135" y="801" font-size="18" textLength="125" lengthAdjust="spacingAndGlyphs">- projectbesluit</text>
 <text x="135" y="825" font-size="18" textLength="198" lengthAdjust="spacingAndGlyphs">- omgevingsvergunning</text>

 <text x="118" y="1067" font-size="22" font-weight="bold" textLength="175" lengthAdjust="spacingAndGlyphs">Terugkoppeling</text>
 <text x="118" y="1097" font-size="18" textLength="210" lengthAdjust="spacingAndGlyphs">- monitoring en evaluatie</text>
 <text x="118" y="1121" font-size="18" textLength="207" lengthAdjust="spacingAndGlyphs">- toezicht en handhaving</text>
</g>

<text transform="translate(1412,329) rotate(90)" font-size="74" fill="#000" textLength="721" lengthAdjust="spacingAndGlyphs">Continue beleidscyclus</text>
</svg>
</body></html>
